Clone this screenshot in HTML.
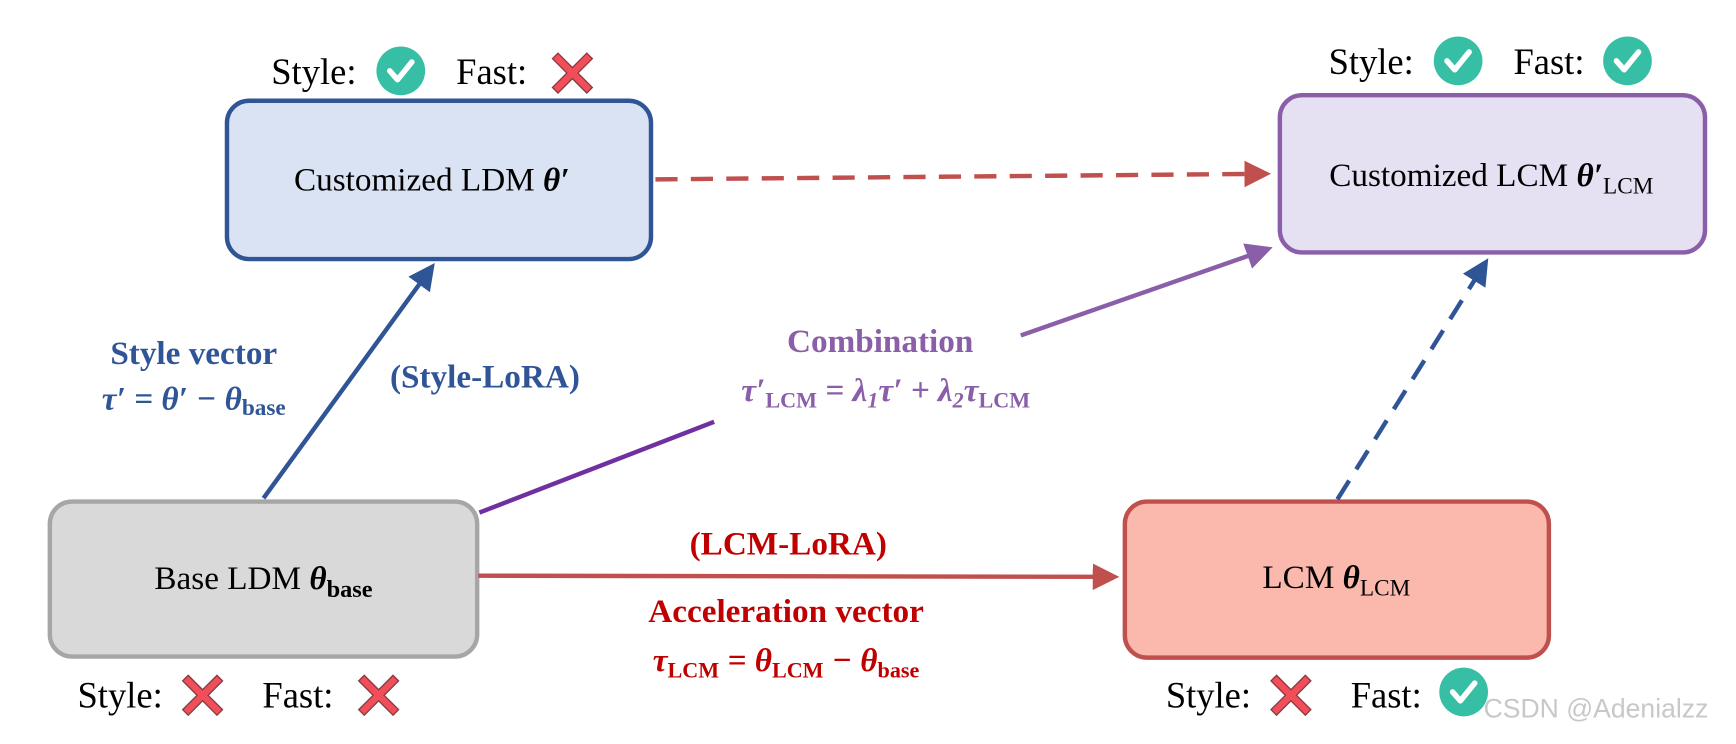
<!DOCTYPE html>
<html><head><meta charset="utf-8"><style>
html,body{margin:0;padding:0;background:#fff;width:1736px;height:744px;overflow:hidden}
svg{display:block}
text{font-family:"Liberation Serif",serif}
</style></head><body>
<svg width="1736" height="744" viewBox="0 0 1568 672" xmlns="http://www.w3.org/2000/svg">
<defs>
<marker id="ab" markerWidth="6" markerHeight="6" refX="4" refY="3" orient="auto" markerUnits="strokeWidth"><path d="M0,0 L6,3 L0,6 z" fill="#2f5597"/></marker>
<marker id="ar" markerWidth="6" markerHeight="6" refX="4" refY="3" orient="auto" markerUnits="strokeWidth"><path d="M0,0 L6,3 L0,6 z" fill="#c0504d"/></marker>
<marker id="ap" markerWidth="6" markerHeight="6" refX="4" refY="3" orient="auto" markerUnits="strokeWidth"><path d="M0,0 L6,3 L0,6 z" fill="#8a5ea8"/></marker>
<g id="ck"><circle r="22" fill="#36bfa5"/><path d="M-10,0 L-3,8 L10,-8" stroke="#fff" stroke-width="5" fill="none" stroke-linecap="round" stroke-linejoin="round"/></g>
<g id="xx"><path d="M-18,-13 L-13,-18 L0,-5 L13,-18 L18,-13 L5,0 L18,13 L13,18 L0,5 L-13,18 L-18,13 L-5,0 z" fill="#f24e5a" stroke="#8a3a40" stroke-width="1.2"/></g>
</defs>

<rect x="205" y="91" width="383" height="143" rx="20" fill="#dae3f3" stroke="#2f5597" stroke-width="4"/>
<rect x="1156" y="86" width="384" height="142" rx="20" fill="#e6e0f3" stroke="#8a5ea8" stroke-width="4"/>
<rect x="45" y="453" width="386" height="140" rx="20" fill="#d9d9d9" stroke="#a6a6a6" stroke-width="4"/>
<rect x="1016" y="453" width="383" height="141" rx="20" fill="#fbb8ad" stroke="#c0504d" stroke-width="4"/>

<line x1="238" y1="450" x2="388" y2="244" stroke="#2f5597" stroke-width="4" marker-end="url(#ab)"/>
<line x1="592" y1="162" x2="1140" y2="157" stroke="#c0504d" stroke-width="4" stroke-dasharray="20,12" marker-end="url(#ar)"/>
<line x1="433" y1="463" x2="645" y2="381" stroke="#7030a0" stroke-width="4"/>
<line x1="922" y1="303" x2="1142" y2="226" stroke="#8a5ea8" stroke-width="4" marker-end="url(#ap)"/>
<line x1="432" y1="520" x2="1003" y2="521" stroke="#c0504d" stroke-width="4" marker-end="url(#ar)"/>
<line x1="1208" y1="451" x2="1340" y2="240" stroke="#2f5597" stroke-width="4" stroke-dasharray="20,12" marker-end="url(#ab)"/>

<text x="390" y="172" font-size="30" text-anchor="middle" fill="#000">Customized LDM <tspan font-weight="bold" font-style="italic">θ′</tspan></text>
<text x="1347" y="168" font-size="30" text-anchor="middle" fill="#000">Customized LCM <tspan font-weight="bold" font-style="italic">θ′</tspan><tspan font-size="21" dy="7">LCM</tspan></text>
<text x="238" y="532" font-size="30" text-anchor="middle" fill="#000">Base LDM <tspan font-weight="bold" font-style="italic">θ</tspan><tspan font-size="22" font-weight="bold" dy="7">base</tspan></text>
<text x="1207" y="531" font-size="30" text-anchor="middle" fill="#000">LCM <tspan font-weight="bold" font-style="italic">θ</tspan><tspan font-size="21" dy="7">LCM</tspan></text>

<text x="245" y="76" font-size="33" fill="#000">Style:</text><use href="#ck" x="362" y="64"/>
<text x="412" y="76" font-size="33" fill="#000">Fast:</text><use href="#xx" x="517" y="66"/>
<text x="1200" y="67" font-size="33" fill="#000">Style:</text><use href="#ck" x="1317" y="55"/>
<text x="1367" y="67" font-size="33" fill="#000">Fast:</text><use href="#ck" x="1470" y="55"/>
<text x="70" y="639" font-size="33" fill="#000">Style:</text><use href="#xx" x="183" y="628"/>
<text x="237" y="639" font-size="33" fill="#000">Fast:</text><use href="#xx" x="342" y="628"/>
<text x="1053" y="639" font-size="33" fill="#000">Style:</text><use href="#xx" x="1166" y="628"/>
<text x="1220" y="639" font-size="33" fill="#000">Fast:</text><use href="#ck" x="1322" y="625"/>

<g font-weight="bold" font-size="30" text-anchor="middle">
<text x="175" y="329" fill="#2f5597">Style vector</text>
<text x="175" y="370" fill="#2f5597" font-style="italic">τ′ = θ′ − θ<tspan font-size="21" font-style="normal" dy="5">base</tspan></text>
<text x="438" y="350" fill="#2f5597">(Style-LoRA)</text>
<text x="795" y="318" fill="#8a5ea8">Combination</text>
<text x="800" y="362" fill="#8a5ea8" font-style="italic">τ′<tspan font-size="20" font-style="normal" dy="6">LCM</tspan><tspan dy="-6"> = λ</tspan><tspan font-size="20" dy="6">1</tspan><tspan dy="-6">τ′ + λ</tspan><tspan font-size="20" dy="6">2</tspan><tspan dy="-6">τ</tspan><tspan font-size="20" font-style="normal" dy="6">LCM</tspan></text>
<text x="712" y="501" fill="#c00000">(LCM-LoRA)</text>
<text x="710" y="562" fill="#c00000">Acceleration vector</text>
<text x="710" y="606" fill="#c00000" font-style="italic">τ<tspan font-size="20" font-style="normal" dy="6">LCM</tspan><tspan dy="-6"> = θ</tspan><tspan font-size="20" font-style="normal" dy="6">LCM</tspan><tspan dy="-6"> − θ</tspan><tspan font-size="20" font-style="normal" dy="6">base</tspan></text>
</g>

<text x="1340" y="648" font-size="24" fill="#c8c8c8" style="font-family:'Liberation Sans',sans-serif">CSDN @Adenialzz</text>
</svg>
</body></html>
